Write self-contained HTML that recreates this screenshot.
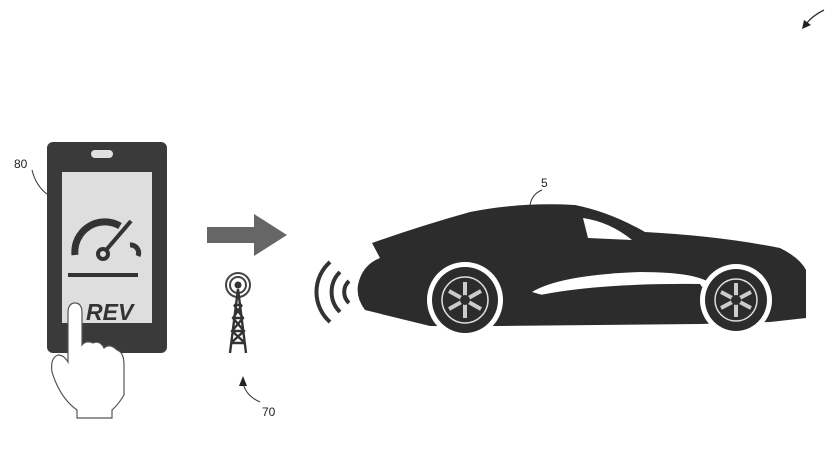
<!DOCTYPE html>
<html><head><style>html,body{margin:0;padding:0;background:#fff}svg{display:block}</style></head>
<body>
<svg width="825" height="464" viewBox="0 0 825 464" xmlns="http://www.w3.org/2000/svg" font-family="Liberation Sans, sans-serif">
<path d="M824,10 Q812,16 806,24" stroke="#333" stroke-width="1.3" fill="none"/>
<path d="M802,29 L804,20 L811,25 Z" fill="#222"/>
<text x="14" y="168" font-size="12" fill="#222">80</text>
<path d="M32,170 Q36,186 47,194" stroke="#333" fill="none"/>
<rect x="47" y="142" width="120" height="211" rx="6" fill="#3a3a3a"/>
<rect x="62" y="172" width="90" height="151" fill="#dedede"/>
<rect x="91" y="150" width="22" height="8" rx="4" fill="#e0e0e0"/>
<path d="M75,255 A30,30 0 0 1 120,226" stroke="#333" stroke-width="7" fill="none"/>
<path d="M130,245 A8,8 0 0 1 138,256" stroke="#333" stroke-width="5" fill="none"/>
<circle cx="103" cy="254" r="5" fill="none" stroke="#333" stroke-width="4"/>
<line x1="107" y1="249" x2="131" y2="221" stroke="#333" stroke-width="4"/>
<line x1="68" y1="275" x2="138" y2="275" stroke="#333" stroke-width="4"/>
<text x="86" y="320" font-size="23" font-weight="bold" font-style="italic" fill="#333">REV</text>
<path d="M68,352 L68,313 Q68,303 75,303 Q82,303 82,313 L82,345 Q86,340 93,343 Q100,340 104,348 Q110,343 117,350 Q124,352 124,365 L124,395 Q118,405 112,410 L112,418 L77,418 L77,410 Q60,398 52,372 Q50,358 58,355 Q64,355 68,362 Z" fill="#fff" stroke="#555" stroke-width="1.2"/>
<rect x="207" y="227" width="49" height="16" fill="#666"/>
<path d="M254,214 L287,235 L254,256 Z" fill="#666"/>
<circle cx="238" cy="285" r="12" fill="none" stroke="#444" stroke-width="2"/>
<circle cx="238" cy="285" r="8" fill="none" stroke="#444" stroke-width="2"/>
<circle cx="238" cy="285" r="3.5" fill="#333"/>
<path d="M238,289 L230,353 M238,289 L246,353 M234,305 L242,305 M233,318 L243,318 M232,331 L244,331 M231,343 L245,343 M234,305 L243,318 L232,331 L245,343 M242,305 L233,318 L244,331 L231,343" stroke="#333" stroke-width="2.4" fill="none"/>
<text x="262" y="416" font-size="12" fill="#222">70</text>
<path d="M260,402 Q246,396 243,383" stroke="#333" fill="none"/>
<path d="M243,376 L239,386 L247,386 Z" fill="#222"/>
<g stroke="#333" stroke-width="4" fill="none">
<path d="M330,262 A40,40 0 0 0 330,322"/>
<path d="M340,272 A28,28 0 0 0 340,312"/>
<path d="M349,281 A15,15 0 0 0 349,303"/>
</g>
<text x="541" y="187" font-size="12" fill="#222">5</text>
<path d="M542,190 Q532,194 530,205" stroke="#333" fill="none"/>
<path d="M372,243 Q420,226 470,212 Q520,202 575,205 Q610,212 645,232 Q720,236 780,248 Q800,258 806,270 L806,318 L770,322 L700,324 L500,326 L430,326 L365,310 Q356,298 358,285 Q362,265 380,258 Z" fill="#2c2c2c"/>
<path d="M583,218 Q610,222 632,240 L588,238 Z" fill="#fff"/>
<path d="M532,292 Q560,275 640,272 Q700,272 712,285 Q640,298 560,300 Z" fill="#fff"/>
<path d="M540,295 Q600,283 700,284 L705,292 Q620,303 545,302 Z" fill="#2c2c2c"/>
<circle cx="465" cy="300" r="38" fill="#fff"/>
<circle cx="736" cy="300" r="36" fill="#fff"/>
<circle cx="465" cy="300" r="33" fill="#2c2c2c"/>
<circle cx="465" cy="300" r="23" fill="none" stroke="#ddd" stroke-width="1.5"/>
<g stroke="#ccc" stroke-width="4"><line x1="465" y1="282" x2="465" y2="318"/><line x1="449" y1="291" x2="481" y2="309"/><line x1="449" y1="309" x2="481" y2="291"/></g>
<circle cx="465" cy="300" r="5" fill="#2c2c2c"/>
<circle cx="736" cy="300" r="31" fill="#2c2c2c"/>
<circle cx="736" cy="300" r="21" fill="none" stroke="#ddd" stroke-width="1.5"/>
<g stroke="#ccc" stroke-width="4"><line x1="736" y1="283" x2="736" y2="317"/><line x1="721" y1="292" x2="751" y2="308"/><line x1="721" y1="308" x2="751" y2="292"/></g>
<circle cx="736" cy="300" r="5" fill="#2c2c2c"/>
</svg>
</body></html>
